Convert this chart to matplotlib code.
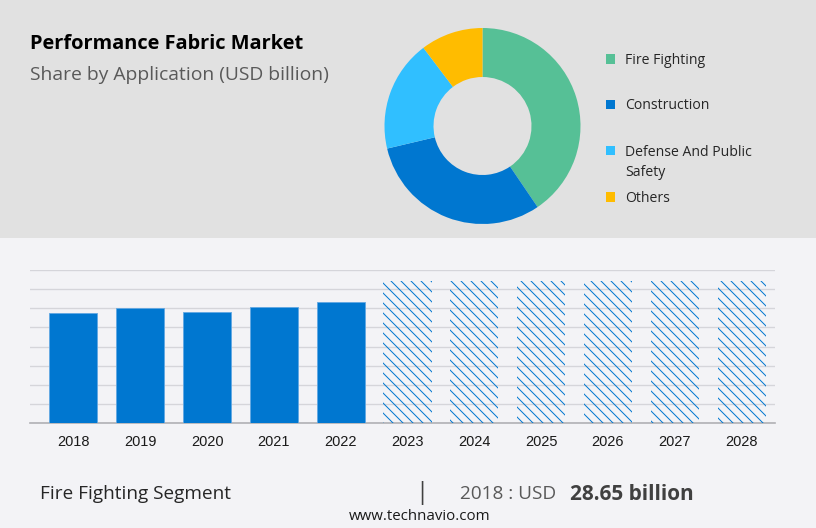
import matplotlib
matplotlib.use('Agg')
import matplotlib.pyplot as plt
from matplotlib.patches import Rectangle

##########Data##########
segments = ['Fire Fighting', 'Construction', 'Defense And Public\nSafety', 'Others']
shares = [40.5, 30.8, 18.4, 10.3]
segment_colors = ['#56c096', '#0077d0', '#30bfff', '#ffbc00']

years = ['2018', '2019', '2020', '2021', '2022', '2023', '2024', '2025', '2026', '2027', '2028']
actual = [28.65, 30.0, 29.05, 30.4, 31.7]
forecast = [37.2, 37.2, 37.2, 37.2, 37.2, 37.2]

##########Setup##########
W, H = 816, 528
DPI = 120
plt.rcParams['font.family'] = ['Open Sans', 'DejaVu Sans']
plt.rcParams['hatch.linewidth'] = 0.6
plt.rcParams['hatch.color'] = '#0077d0'

fig = plt.figure(figsize=(W / DPI, H / DPI), dpi=DPI, facecolor='#f3f3f6')

#Axes placed by pixel box, y measured from the top
def px_axes(left, top, right, bottom):
	return fig.add_axes([left / W, 1 - bottom / H, (right - left) / W, (bottom - top) / H])

#Text placed by pixel, size given in pixels
def px_text(x, y, s, size, **kw):
	kw.setdefault('va', 'center')
	return fig.text(x / W, 1 - y / H, s, fontsize=size * 72 / DPI, **kw)

#Grey top band
fig.patches.append(Rectangle((0, 1 - 238 / H), 1, 238 / H, transform=fig.transFigure,
	facecolor='#e1e1e1', edgecolor='none', zorder=-1))

##########Donut##########
cx, cy, r = 482.5, 126, 98
ax_pie = px_axes(cx - r, cy - r, cx + r, cy + r)
ax_pie.pie(shares, colors=segment_colors, startangle=90, counterclock=False, radius=1,
	wedgeprops={'width': 0.5, 'linewidth': 0})
ax_pie.set_xlim(-1, 1)
ax_pie.set_ylim(-1, 1)

##########Titles##########
px_text(30, 44, 'Performance Fabric Market', 20, fontweight='bold', color='#000000')
px_text(30, 75, 'Share by Application (USD billion)', 19.3, color='#595959')

##########Legend##########
legend_y = [61, 106, 153, 199]
for name, color, y in zip(segments, segment_colors, legend_y):
	fig.patches.append(Rectangle((606 / W, 1 - (y + 2.5) / H), 9 / W, 9 / H, transform=fig.transFigure,
		facecolor=color, edgecolor='none'))
	if '\n' in name:
		first, second = name.split('\n')
		px_text(625, y, first, 14, color='#262626')
		px_text(625, y + 20, second, 14, color='#262626')
	else:
		px_text(625, y, name, 14, color='#262626')

##########Bars##########
ax = px_axes(30, 270, 775, 423)
ax.set_facecolor('none')
pos = list(range(len(years)))
ax.bar(pos[:len(actual)], actual, width=0.72, color='#0077d0', edgecolor='#62a8e2', linewidth=0.5, zorder=3)
ax.bar(pos[len(actual):], forecast, width=0.72, facecolor='none', edgecolor='#0077d0', hatch='\\\\\\\\',
	linewidth=0, zorder=3)

ax.set_xlim(-0.65, 10.5)
ax.set_ylim(0, 40)
ax.set_yticks(range(0, 41, 5))
ax.set_yticklabels([])
ax.set_xticks(pos)
ax.set_xticklabels(years, fontsize=14.5 * 72 / DPI, family='Liberation Sans', color='#1a1a1a')
ax.tick_params(axis='both', length=0)
ax.tick_params(axis='x', pad=7)
ax.grid(axis='y', color='#d5d5da', linewidth=0.8, zorder=0)
ax.set_axisbelow(True)
for side in ['top', 'left', 'right']:
	ax.spines[side].set_visible(False)
ax.spines['bottom'].set_color('#b0b0b4')
ax.spines['bottom'].set_linewidth(1.0)

##########Footer##########
px_text(40, 494, 'Fire Fighting Segment', 19, color='#262626')
px_text(422, 493, '|', 24, color='#404040', ha='center')
px_text(460, 494, '2018 : USD', 19, color='#595959')
px_text(570, 494.5, '28.65 billion', 20.8, color='#404040', fontweight='bold')
px_text(420, 517, 'www.technavio.com', 15, color='#1a1a1a', ha='center')

fig.savefig('out.png', dpi=DPI, facecolor=fig.get_facecolor())
